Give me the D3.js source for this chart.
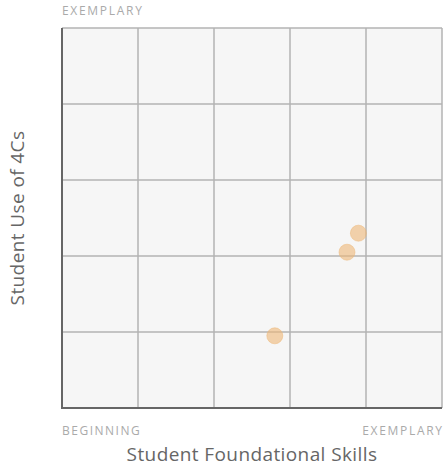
<!DOCTYPE html>
<html><head><meta charset="utf-8">
<script src="https://cdn.jsdelivr.net/npm/d3@7"></script>
<style>body{margin:0;background:#fff}svg{display:block}</style>
</head><body>
<script>
const xValues = [56, 75, 78];
const yValues = [19, 41, 46];
const gridTicks = [0, 20, 40, 60, 80, 100];
const axisLabels = {x: "Student Foundational Skills", y: "Student Use of 4Cs"};
const endLabels = {low: "BEGINNING", high: "EXEMPLARY"};

const W = 444, H = 469;
const m = {l: 62, r: 2, t: 28, b: 61};
const svg = d3.select("body").append("svg").attr("width", W).attr("height", H);
const x = d3.scaleLinear().domain([0, 100]).range([m.l, W - m.r]);
const y = d3.scaleLinear().domain([0, 100]).range([H - m.b, m.t]);
const font = "'Open Sans', sans-serif";

svg.append("rect").attr("x", x(0)).attr("y", y(100))
  .attr("width", x(100) - x(0)).attr("height", y(0) - y(100)).attr("fill", "#f6f6f6");

const g = svg.append("g");
g.selectAll("line.v").data(gridTicks.slice(1)).join("line")
  .attr("x1", d => x(d)).attr("x2", d => x(d)).attr("y1", y(0)).attr("y2", y(100))
  .attr("stroke", "#b3b3b3").attr("stroke-width", 1.5);
g.selectAll("line.h").data(gridTicks.slice(1)).join("line").attr("class","h")
  .attr("y1", d => y(d)).attr("y2", d => y(d)).attr("x1", x(0)).attr("x2", x(100))
  .attr("stroke", "#b3b3b3").attr("stroke-width", 1.5);

svg.append("line").attr("x1", x(0)).attr("x2", x(0)).attr("y1", y(100)).attr("y2", y(0) + 1)
  .attr("stroke", "#666").attr("stroke-width", 2);
svg.append("line").attr("x1", x(0) - 1).attr("x2", x(100)).attr("y1", y(0)).attr("y2", y(0))
  .attr("stroke", "#666").attr("stroke-width", 2);

const pts = xValues.map((v, i) => ({x: v, y: yValues[i]}));
svg.selectAll("circle").data(pts).join("circle")
  .attr("cx", d => x(d.x)).attr("cy", d => y(d.y)).attr("r", 8)
  .attr("fill", "#eeb878").attr("fill-opacity", 0.6)
  .attr("stroke", "#eeb878").attr("stroke-opacity", 0.5).attr("stroke-width", 1);

function addText(tx, ty, s, anchor, size, fill, ls) {
  return svg.append("text").attr("x", tx).attr("y", ty).attr("text-anchor", anchor).text(s)
    .attr("font-family", font).attr("font-size", size).attr("fill", fill)
    .attr("letter-spacing", ls);
}
addText(x(0), 15, endLabels.high, "start", 12, "#aaa", 1.7);
addText(x(0), 435, endLabels.low, "start", 12, "#aaa", 1.5);
addText(x(100) + 1.7, 435, endLabels.high, "end", 12, "#aaa", 1.7);
addText((x(0) + x(100)) / 2, 461, axisLabels.x, "middle", 19, "#666", 0.4);
svg.append("text").attr("transform", `translate(24,${(y(0) + y(100)) / 2}) rotate(-90)`)
  .attr("text-anchor", "middle").text(axisLabels.y)
  .attr("font-family", font).attr("font-size", 19).attr("fill", "#666")
  .attr("letter-spacing", 0.4);
</script>
</body></html>
